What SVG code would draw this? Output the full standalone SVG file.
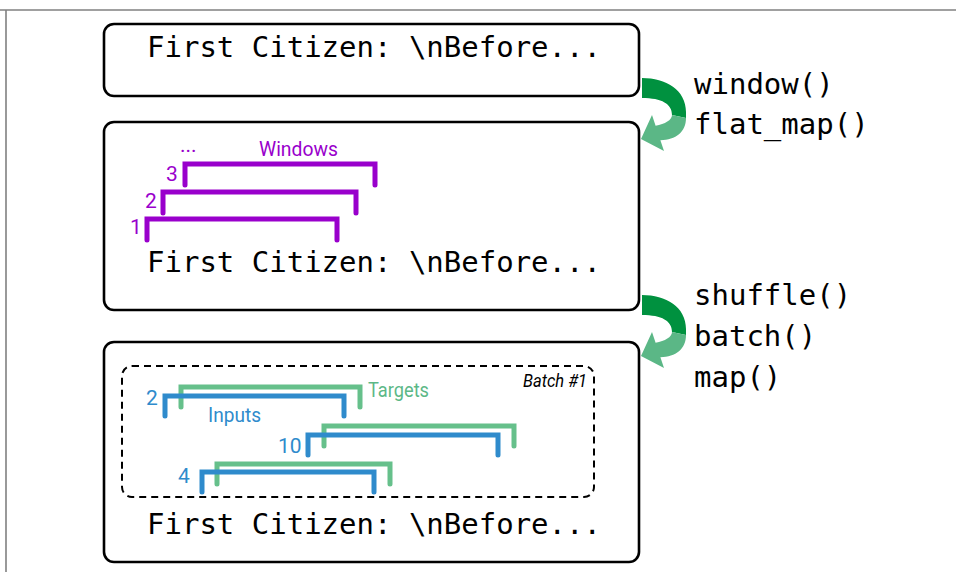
<svg xmlns="http://www.w3.org/2000/svg" width="956" height="572" viewBox="0 0 956 572">
  <defs>
    <style>
      .frame { stroke: #808080; stroke-width: 1.6; fill: none; }
      .stage { fill: #ffffff; stroke: #000000; stroke-width: 2.6; }
      .mono { font-family: "DejaVu Sans Mono", "Liberation Mono", monospace; font-size: 29px; fill: #000000; }
      .lbl { font-family: Roboto, "Liberation Sans", sans-serif; font-size: 21px; }
      .win { fill: none; stroke: #9900cc; stroke-width: 5; stroke-linecap: round; stroke-linejoin: miter; }
      .inp { fill: none; stroke: #2f8bcc; stroke-width: 5; stroke-linecap: round; stroke-linejoin: miter; }
      .tgt { fill: none; stroke: #66c08b; stroke-width: 5; stroke-linecap: round; stroke-linejoin: miter; }
      .purple { fill: #9900cc; }
      .blue { fill: #2f8bcc; }
      .green { fill: #5cb887; }
      .batch { fill: none; stroke: #000000; stroke-width: 2; stroke-dasharray: 7 5; }
      .dark { fill: #00913f; }
      .light { fill: #5bb786; }
    </style>
    <!-- curved green step arrow, origin at its left end -->
    <g id="turn">
      <path class="dark" d="M0,0 C24,0 44,12 44,34 L44,40 L30,37 C30,26 20,20 0,20 Z"/>
      <path class="light" d="M44,40 C44,54 34,62 18.4,62.2 L22,73 L-1,61 L10,37 L13.6,47.8 C23,46 30,42 30,37 Z"/>
    </g>
  </defs>

  <!-- outer frame -->
  <line class="frame" x1="0" y1="10" x2="956" y2="10"/>
  <line class="frame" x1="6" y1="10" x2="6" y2="572"/>

  <!-- stage 1: raw text -->
  <g id="stage-text">
    <rect class="stage" x="104" y="24" width="535" height="72" rx="10"/>
    <text class="mono" x="147" y="57">First Citizen: \nBefore...</text>
  </g>

  <!-- stage 2: windows -->
  <g id="stage-windows">
    <rect class="stage" x="104" y="122" width="535" height="188" rx="10"/>
    <path class="win" d="M147,240 V219 H337 V240"/>
    <path class="win" d="M163,213 V192 H356 V213"/>
    <path class="win" d="M185,185 V164 H375 V185"/>
    <text class="lbl purple" x="130" y="234">1</text>
    <text class="lbl purple" x="145" y="208">2</text>
    <text class="lbl purple" x="166" y="181">3</text>
    <text class="lbl purple" x="180" y="152" font-size="23">...</text>
    <text class="lbl purple" x="259" y="156" textLength="79" lengthAdjust="spacingAndGlyphs">Windows</text>
    <text class="mono" x="147" y="272">First Citizen: \nBefore...</text>
  </g>

  <!-- stage 3: batches of input/target pairs -->
  <g id="stage-batches">
    <rect class="stage" x="104" y="342" width="535" height="220" rx="10"/>
    <rect class="batch" x="122" y="366" width="472" height="131" rx="10"/>
    <text x="587" y="387" text-anchor="end" font-family="Roboto, 'Liberation Sans', sans-serif" font-size="19" font-style="italic" fill="#000000" textLength="64" lengthAdjust="spacingAndGlyphs">Batch #1</text>

    <path class="tgt" d="M181,407 V387 H360 V407"/>
    <path class="inp" d="M165,416 V396 H344 V416"/>
    <text class="lbl blue" x="146" y="405">2</text>
    <text class="lbl green" x="368" y="397" textLength="61" lengthAdjust="spacingAndGlyphs">Targets</text>
    <text class="lbl blue" x="208" y="422" textLength="53" lengthAdjust="spacingAndGlyphs">Inputs</text>

    <path class="tgt" d="M324,446 V426 H514 V446"/>
    <path class="inp" d="M308,455 V435 H498 V455"/>
    <text class="lbl blue" x="278" y="453">10</text>

    <path class="tgt" d="M217,484 V464 H390 V484"/>
    <path class="inp" d="M202,492 V472 H374 V492"/>
    <text class="lbl blue" x="178" y="483">4</text>

    <text class="mono" x="147" y="534">First Citizen: \nBefore...</text>
  </g>

  <!-- transformation steps between stages -->
  <g id="connectors">
    <use href="#turn" x="642" y="78"/>
    <use href="#turn" x="642" y="295"/>
  </g>

  <g id="ops-1">
    <text class="mono" x="694" y="94">window()</text>
    <text class="mono" x="694" y="134">flat_map()</text>
  </g>
  <g id="ops-2">
    <text class="mono" x="694" y="305">shuffle()</text>
    <text class="mono" x="694" y="346">batch()</text>
    <text class="mono" x="694" y="387">map()</text>
  </g>
</svg>
